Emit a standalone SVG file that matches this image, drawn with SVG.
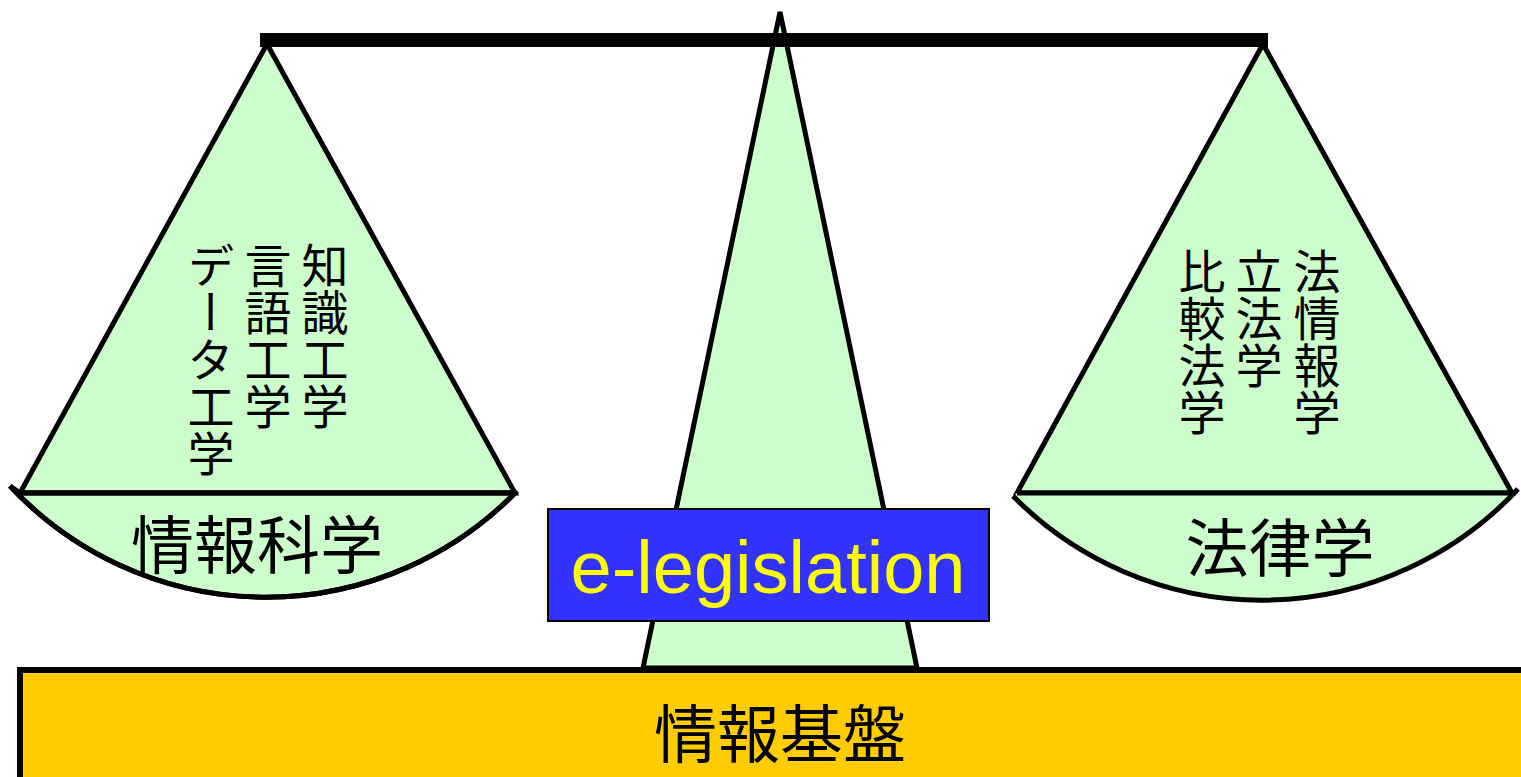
<svg xmlns="http://www.w3.org/2000/svg" width="1521" height="777" viewBox="0 0 1521 777">
<style>
.g{fill:#CCFFCC;stroke:#000;stroke-width:5;stroke-linejoin:miter}
.arc{fill:#CCFFCC;stroke:#000;stroke-width:5}
.jp{font-family:"Noto Sans CJK JP","Noto Sans CJK SC",sans-serif;fill:#000}
.vt{writing-mode:vertical-rl;font-size:47px}
.big{font-size:63px;text-anchor:middle}
</style>
<rect x="0" y="0" width="1521" height="777" fill="#fff"/>
<g id="pillar">
<polygon class="g" points="780,12 917,668 643,668"/>
</g>
<g id="beam">
<rect x="260" y="33" width="1008" height="14" fill="#000"/>
</g>
<g id="left-pan">
<polygon class="g" points="267,44 515,493 20,493"/>
<path class="arc" d="M 10 486 A 350 350 0 0 0 517 491 L 515 493 L 20 493 Z" stroke="none"/>
<path d="M 10 486 A 350 350 0 0 0 517 491" fill="none" stroke="#000" stroke-width="5"/>
<line x1="20" y1="493" x2="515" y2="493" stroke="#000" stroke-width="5"/>
<text class="jp vt" x="325" y="242">知識工学</text>
<text class="jp vt" x="268" y="242">言語工学</text>
<text class="jp vt" x="211" y="242">データ工学</text>
<text class="jp big" x="257" y="568">情報科学</text>
</g>
<g id="right-pan">
<polygon class="g" points="1263,44 1512,493 1017,493"/>
<path d="M 1013 496 A 350 350 0 0 0 1518 489 L 1512 493 L 1017 493 Z" fill="#CCFFCC"/>
<path d="M 1013 496 A 350 350 0 0 0 1518 489" fill="none" stroke="#000" stroke-width="5"/>
<line x1="1017" y1="493" x2="1512" y2="493" stroke="#000" stroke-width="5"/>
<text class="jp vt" x="1317" y="248">法情報学</text>
<text class="jp vt" x="1259" y="248">立法学</text>
<text class="jp vt" x="1202" y="248">比較法学</text>
<text class="jp big" x="1280" y="571">法律学</text>
</g>
<g id="e-legislation">
<rect x="548" y="509" width="441" height="112" fill="#3333FF" stroke="#000" stroke-width="2"/>
<text x="768" y="593" font-family="Liberation Sans, Arial, sans-serif" font-size="74" fill="#FFFF00" text-anchor="middle">e-legislation</text>
</g>
<g id="base">
<rect x="20" y="670" width="1520" height="130" fill="#FFCC00" stroke="#000" stroke-width="6"/>
<text class="jp big" x="780" y="757">情報基盤</text>
</g>
<g id="connectors"></g>
</svg>
